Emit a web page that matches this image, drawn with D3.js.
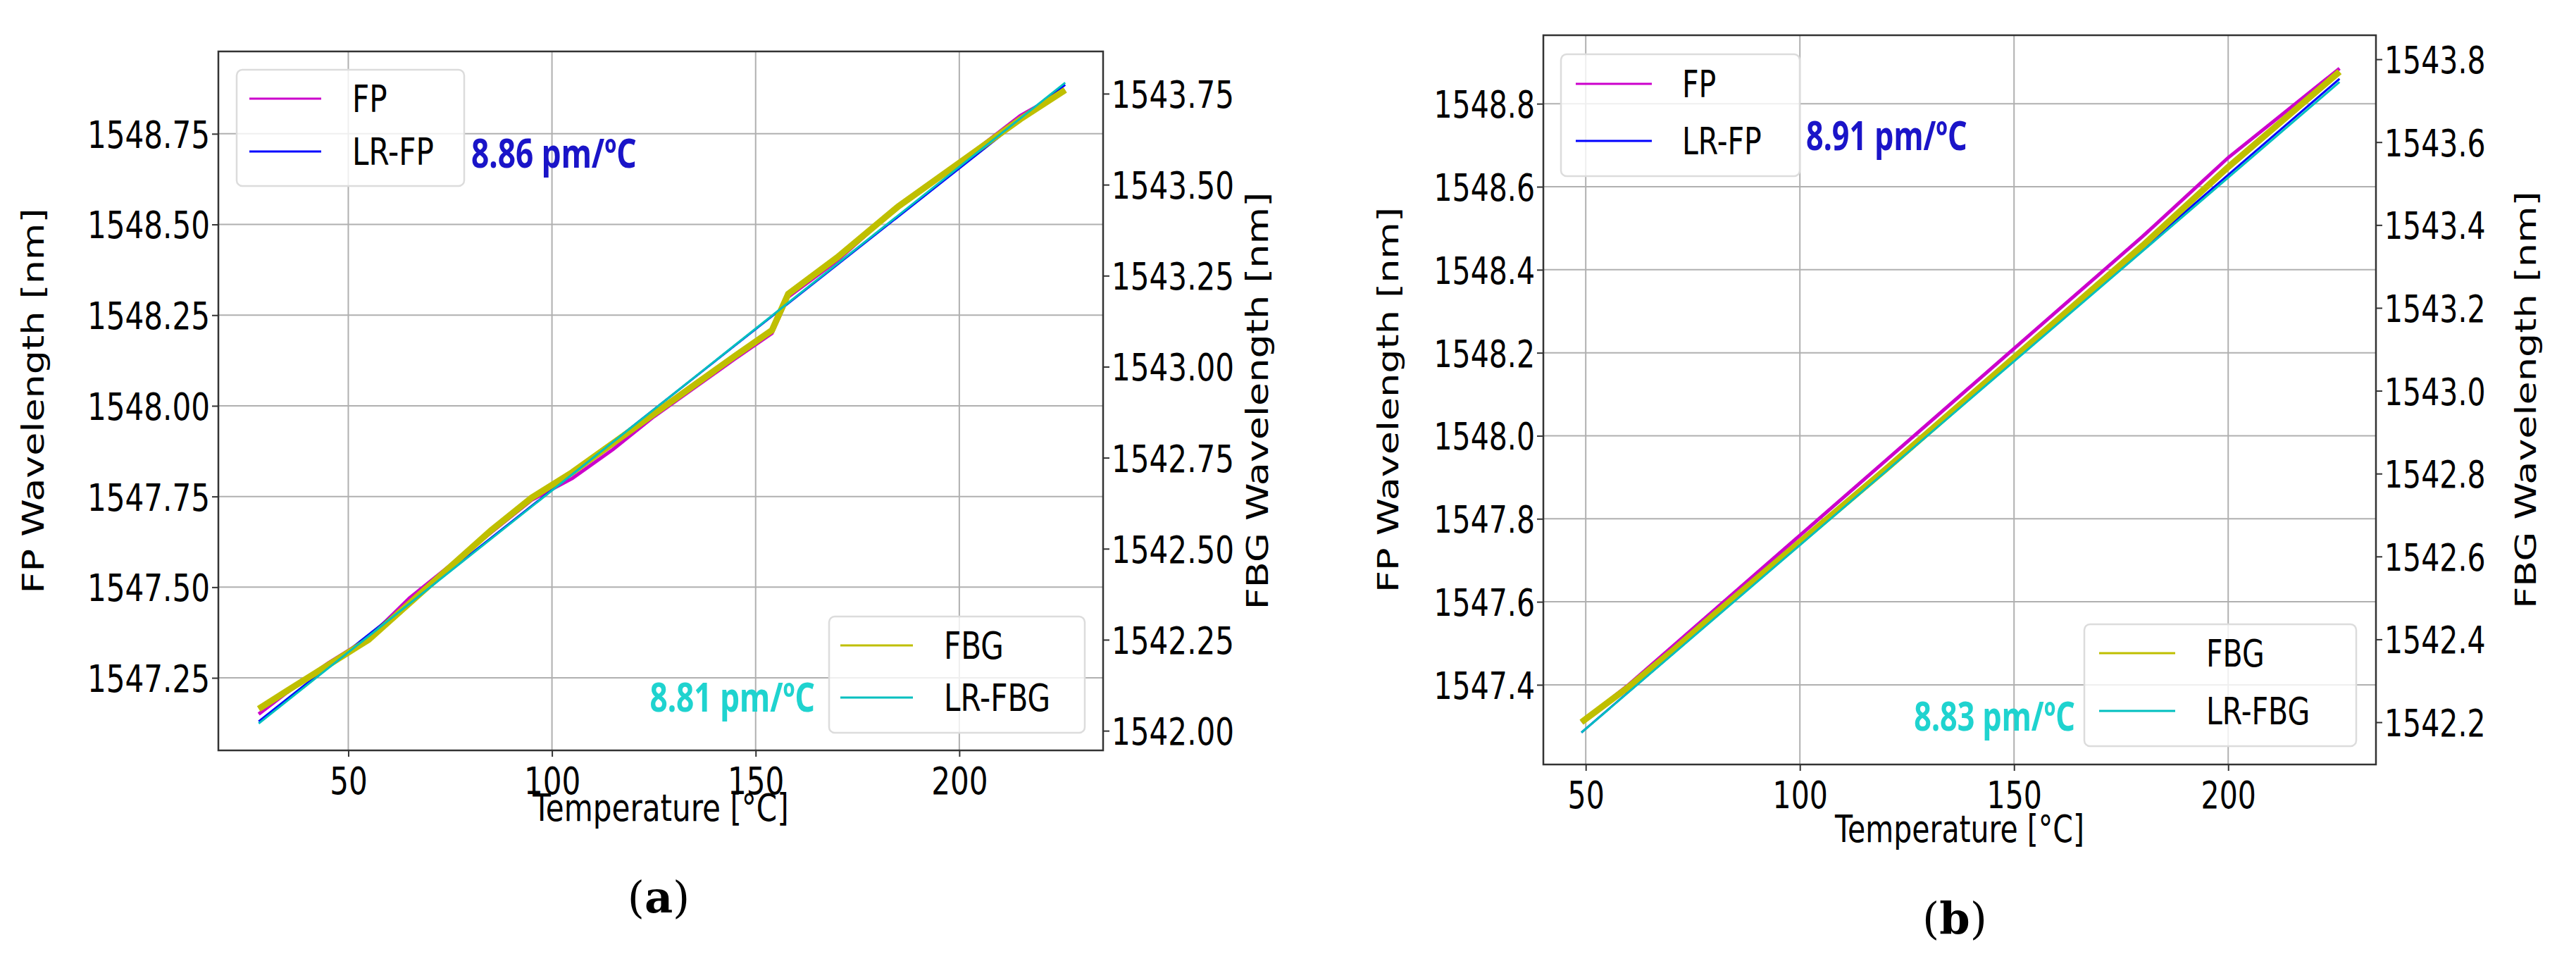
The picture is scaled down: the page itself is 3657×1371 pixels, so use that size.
<!DOCTYPE html>
<html>
<head>
<meta charset="utf-8">
<script src="https://cdn.jsdelivr.net/npm/d3@7"></script>
<style>
  body { margin: 0; background: #fff; }
  text { font-family: "DejaVu Sans", sans-serif; }
</style>
</head>
<body>
<svg id="chart" width="3657" height="1371"></svg>
<script>
// panel (a) data: [temperature °C, wavelength nm]
const fpA = [[28,1547.15],[35,1547.21],[45,1547.29],[55,1547.36],[65,1547.47],[75,1547.56],[85,1547.65],[95,1547.74],[105,1547.80],[115,1547.88],[125,1547.97],[135,1548.05],[145,1548.13],[154,1548.20],[158,1548.30],[170,1548.40],[185,1548.55],[200,1548.67],[215,1548.80],[226,1548.87]];
const lrFpA = [[28,1547.13],[226,1548.885]];
const fbgA = [[28,1542.06],[35,1542.11],[45,1542.18],[55,1542.25],[65,1542.35],[75,1542.45],[85,1542.55],[95,1542.64],[105,1542.71],[115,1542.79],[125,1542.87],[135,1542.95],[145,1543.03],[154,1543.10],[158,1543.20],[170,1543.30],[185,1543.44],[200,1543.56],[215,1543.68],[226,1543.76]];
const lrFbgA = [[28,1542.02],[226,1543.78]];

// panel (b) data
const fpB = [[49,1547.31],[60,1547.40],[70,1547.49],[80,1547.58],[100,1547.76],[120,1547.94],[140,1548.12],[160,1548.30],[180,1548.48],[200,1548.67],[226,1548.885]];
const lrFpB = [[49,1547.285],[226,1548.86]];
const fbgB = [[49,1542.20],[60,1542.285],[70,1542.37],[80,1542.46],[100,1542.635],[120,1542.81],[140,1542.99],[160,1543.17],[180,1543.35],[200,1543.54],[226,1543.77]];
const lrFbgB = [[49,1542.175],[226,1543.745]];

const xTicksA = [50, 100, 150, 200];
const leftTicksA = [1547.25, 1547.50, 1547.75, 1548.00, 1548.25, 1548.50, 1548.75];
const rightTicksA = [1542.00, 1542.25, 1542.50, 1542.75, 1543.00, 1543.25, 1543.50, 1543.75];
const xTicksB = [50, 100, 150, 200];
const leftTicksB = [1547.4, 1547.6, 1547.8, 1548.0, 1548.2, 1548.4, 1548.6, 1548.8];
const rightTicksB = [1542.2, 1542.4, 1542.6, 1542.8, 1543.0, 1543.2, 1543.4, 1543.6, 1543.8];

const colors = {fp: "#cc00cc", lrFp: "#0000ff", fbg: "#bfbf00", lrFbg: "#00bfbf"};
const svg = d3.select("#chart");

function stext(g, x, y, str, o) {
  const t = g.append("text")
    .attr("transform", `translate(${x},${y}) scale(${o.sx},1)` + (o.rot ? " rotate(-90)" : ""))
    .attr("font-size", o.size)
    .attr("text-anchor", o.anchor || "start")
    .attr("fill", o.fill || "#000")
    .attr("font-weight", o.weight || "normal")
    .text(str);
  if (o.family) t.style("font-family", o.family);
  return t;
}

function panel(p) {
  const g = svg.append("g");
  const x = d3.scaleLinear().domain(p.xDom).range([p.l, p.r]);
  const yL = d3.scaleLinear().domain(p.lDom).range([p.b, p.t]);
  const yR = d3.scaleLinear().domain(p.rDom).range([p.b, p.t]);

  // grid
  g.append("g").selectAll("line.gx").data(p.xTicks).join("line")
    .attr("x1", d => x(d)).attr("x2", d => x(d)).attr("y1", p.t).attr("y2", p.b)
    .attr("stroke", "#b0b0b0").attr("stroke-width", 2);
  g.append("g").selectAll("line.gy").data(p.lTicks).join("line")
    .attr("x1", p.l).attr("x2", p.r).attr("y1", d => yL(d)).attr("y2", d => yL(d))
    .attr("stroke", "#b0b0b0").attr("stroke-width", 2);

  const line = (ys) => d3.line().x(d => x(d[0])).y(d => ys(d[1]));
  g.append("path").datum(p.fp).attr("d", line(yL)).attr("fill", "none")
    .attr("stroke", colors.fp).attr("stroke-width", 5);
  g.append("path").datum(p.lrFp).attr("d", line(yL)).attr("fill", "none")
    .attr("stroke", colors.lrFp).attr("stroke-width", 3);
  g.append("path").datum(p.fbg).attr("d", line(yR)).attr("fill", "none")
    .attr("stroke", colors.fbg).attr("stroke-width", 9);
  g.append("path").datum(p.lrFbg).attr("d", line(yR)).attr("fill", "none")
    .attr("stroke", colors.lrFbg).attr("stroke-width", 3);

  // frame
  g.append("rect").attr("x", p.l).attr("y", p.t).attr("width", p.r - p.l).attr("height", p.b - p.t)
    .attr("fill", "none").attr("stroke", "#333").attr("stroke-width", 2.5);

  // axes
  const styleAxis = (ax, anchor, dx, dy) => {
    ax.select(".domain").remove();
    ax.selectAll(".tick line").attr("stroke", "#333").attr("stroke-width", 2);
    ax.selectAll(".tick text").each(function () {
      const t = d3.select(this);
      t.attr("x", null).attr("dy", null).attr("y", null)
        .attr("text-anchor", anchor).attr("font-size", p.fs).attr("fill", "#000")
        .attr("transform", `translate(${dx},${dy}) scale(${p.sx},1)`)
        .style("font-family", "DejaVu Sans");
    });
  };
  const ax = g.append("g").attr("transform", `translate(0,${p.b})`)
    .call(d3.axisBottom(x).tickValues(p.xTicks).tickSize(9).tickFormat(d3.format("d")));
  styleAxis(ax, "middle", 0, p.fs * 1.15);
  const al = g.append("g").attr("transform", `translate(${p.l},0)`)
    .call(d3.axisLeft(yL).tickValues(p.lTicks).tickSize(9).tickFormat(d3.format(p.fmt)));
  styleAxis(al, "end", -12, p.fs * 0.36);
  const ar = g.append("g").attr("transform", `translate(${p.r},0)`)
    .call(d3.axisRight(yR).tickValues(p.rTicks).tickSize(9).tickFormat(d3.format(p.fmt)));
  styleAxis(ar, "start", 12, p.fs * 0.36);

  const mid = (p.t + p.b) / 2;
  stext(g, (p.l + p.r) / 2, p.xlabY, "Temperature [°C]", {sx: p.sx, size: p.fs, anchor: "middle"});
  stext(g, p.ylX, mid, "FP Wavelength [nm]", {sx: p.sx, size: p.fs, anchor: "middle", rot: true});
  stext(g, p.yrX, mid, "FBG Wavelength [nm]", {sx: p.sx, size: p.fs, anchor: "middle", rot: true});
  const cap = stext(g, p.capX, p.capY, "", {sx: 1, size: p.fs * 1.15, anchor: "middle", family: "DejaVu Serif"});
  cap.append("tspan").text("(");
  cap.append("tspan").attr("font-weight", "bold").text(p.cap);
  cap.append("tspan").text(")");

  // legends
  const legend = (lg, items) => {
    g.append("rect").attr("x", lg.x0).attr("y", lg.y0).attr("width", lg.x1 - lg.x0).attr("height", lg.y1 - lg.y0)
      .attr("rx", 8).attr("fill", "rgba(255,255,255,0.8)").attr("stroke", "#dcdcdc").attr("stroke-width", 2.5);
    items.forEach((it, i) => {
      const yy = lg.ys[i];
      g.append("line").attr("x1", lg.lx0).attr("x2", lg.lx1).attr("y1", yy).attr("y2", yy)
        .attr("stroke", it[1]).attr("stroke-width", 3);
      stext(g, lg.tx, yy + p.fs * 0.36, it[0], {sx: p.sx, size: p.fs});
    });
  };
  legend(p.lg1, [["FP", colors.fp], ["LR-FP", colors.lrFp]]);
  legend(p.lg2, [["FBG", colors.fbg], ["LR-FBG", colors.lrFbg]]);

  stext(g, p.a1[0], p.a1[1], p.a1[2], {sx: p.sx, size: p.fs * 1.05, weight: "bold", fill: "#1a14c8", family: "Noto Sans"});
  stext(g, p.a2[0], p.a2[1], p.a2[2], {sx: p.sx, size: p.fs * 1.05, weight: "bold", fill: "#1fd3cf", family: "Noto Sans", anchor: "end"});
}

panel({
  l: 310, r: 1566, t: 73, b: 1065, sx: 0.78, fs: 54,
  xDom: [18.1, 235.3], lDom: [1547.05, 1548.977], rDom: [1541.946, 1543.866],
  xTicks: xTicksA, lTicks: leftTicksA, rTicks: rightTicksA, fmt: ".2f",
  fp: fpA, lrFp: lrFpA, fbg: fbgA, lrFbg: lrFbgA,
  xlabY: 1165, ylX: 62, yrX: 1800, capX: 935, capY: 1295, cap: "a",
  lg1: {x0: 336, x1: 659, y0: 99, y1: 264, ys: [140, 215], lx0: 354, lx1: 456, tx: 500},
  lg2: {x0: 1177, x1: 1540, y0: 875, y1: 1040, ys: [916, 990], lx0: 1193, lx1: 1296, tx: 1340},
  a1: [669, 238, "8.86 pm/ºC"], a2: [1157, 1010, "8.81 pm/ºC"]
});

panel({
  l: 2191, r: 3373, t: 50, b: 1085, sx: 0.76, fs: 54,
  xDom: [40.1, 234.5], lDom: [1547.208, 1548.965], rDom: [1542.098, 1543.858],
  xTicks: xTicksB, lTicks: leftTicksB, rTicks: rightTicksB, fmt: ".1f",
  fp: fpB, lrFp: lrFpB, fbg: fbgB, lrFbg: lrFbgB,
  xlabY: 1195, ylX: 1985, yrX: 3600, capX: 2775, capY: 1325, cap: "b",
  lg1: {x0: 2216, x1: 2555, y0: 77, y1: 250, ys: [119, 200], lx0: 2237, lx1: 2345, tx: 2388},
  lg2: {x0: 2959, x1: 3345, y0: 886, y1: 1059, ys: [927, 1009], lx0: 2980, lx1: 3088, tx: 3132},
  a1: [2564, 213, "8.91 pm/ºC"], a2: [2946, 1037, "8.83 pm/ºC"]
});
</script>
</body>
</html>
